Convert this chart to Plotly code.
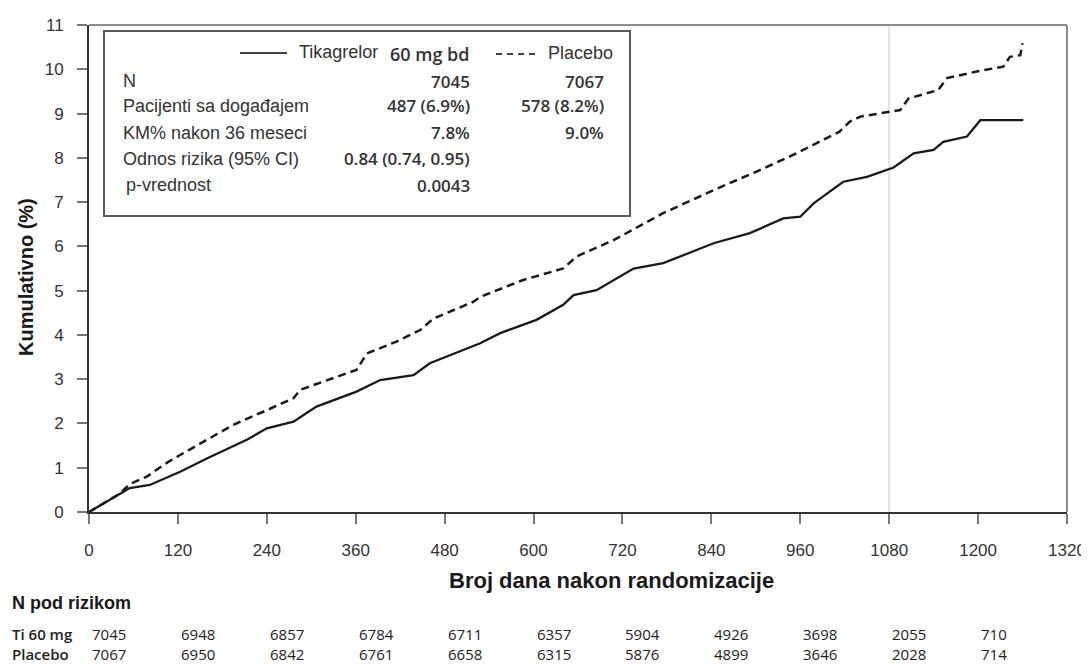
import plotly.graph_objects as go

# ---------------- data ----------------
tica_days = [0, 55, 82, 123, 159, 213, 240, 276, 307, 361, 393, 438, 460, 528, 555, 604, 640, 654,
             685, 735, 775, 843, 892, 937, 960, 978, 1018, 1050, 1086, 1113, 1140, 1153, 1185, 1203, 1261]
tica_vals = [0, 0.54, 0.61, 0.91, 1.21, 1.63, 1.89, 2.04, 2.38, 2.72, 2.98, 3.09, 3.36, 3.81, 4.04, 4.34, 4.68, 4.90,
             5.01, 5.50, 5.62, 6.07, 6.30, 6.63, 6.67, 6.97, 7.46, 7.57, 7.78, 8.10, 8.18, 8.36, 8.48, 8.85, 8.85]

pla_days = [0, 42, 55, 78, 106, 118, 159, 195, 240, 276, 285, 316, 361, 375, 415, 447, 465, 519, 528, 586, 640,
            658, 708, 775, 843, 901, 946, 995, 1013, 1027, 1041, 1095, 1106, 1146, 1158, 1198, 1234, 1243, 1257, 1260]
pla_vals = [0, 0.42, 0.63, 0.80, 1.12, 1.24, 1.63, 1.97, 2.30, 2.57, 2.76, 2.94, 3.21, 3.58, 3.85, 4.11, 4.37, 4.75,
            4.86, 5.24, 5.50, 5.77, 6.14, 6.75, 7.27, 7.69, 8.03, 8.44, 8.59, 8.82, 8.93, 9.08, 9.34, 9.53, 9.80,
            9.95, 10.06, 10.28, 10.32, 10.59]

x_ticks = [0, 120, 240, 360, 480, 600, 720, 840, 960, 1080, 1200, 1320]
y_ticks = list(range(0, 12))
risk_days = [0, 120, 240, 360, 480, 600, 720, 840, 960, 1080, 1200]
risk_tica = [7045, 6948, 6857, 6784, 6711, 6357, 5904, 4926, 3698, 2055, 710]
risk_pla = [7067, 6950, 6842, 6761, 6658, 6315, 5876, 4899, 3646, 2028, 714]
ref_day = 1080

box_labels = ["N", "Pacijenti sa događajem", "KM% nakon 36 meseci", "Odnos rizika (95% CI)", "p-vrednost"]
box_tica = ["7045", "487 (6.9%)", "7.8%", "0.84 (0.74, 0.95)", "0.0043"]
box_pla = ["7067", "578 (8.2%)", "9.0%", "", ""]

# ---------------- geometry helpers (page pixels) ----------------
PAGE_W, PAGE_H = 1089, 666
OFF = 8                       # default body margin of the html page
W, H = PAGE_W - OFF, PAGE_H - OFF
L, R, T, B = 89, 1067, 25, 512   # plot area in page pixels


def px(x):
    return (x - L) / (R - L)


def py(y):
    return (B - y) / (B - T)


SANS = "Liberation Sans, Arial, sans-serif"
NUM = "Open Sans, sans-serif"
INK = "#222222"

fig = go.Figure()
fig.add_trace(go.Scatter(x=tica_days, y=tica_vals, mode="lines",
                         line=dict(color="#1a1a1a", width=2.3), name="Tikagrelor 60 mg bd",
                         showlegend=False))
fig.add_trace(go.Scatter(x=pla_days, y=pla_vals, mode="lines",
                         line=dict(color="#1a1a1a", width=2.5, dash="8px,5px"), name="Placebo",
                         showlegend=False))

shapes = [
    dict(type="line", xref="x", yref="paper", x0=ref_day, x1=ref_day, y0=0, y1=1,
         line=dict(color="#e2e2e2", width=2), layer="below"),
    dict(type="line", xref="paper", yref="paper", x0=0, x1=1, y0=1, y1=1,
         line=dict(color="#8c8c8c", width=2)),
    dict(type="line", xref="paper", yref="paper", x0=1, x1=1, y0=0, y1=1,
         line=dict(color="#8c8c8c", width=2)),
    dict(type="rect", xref="paper", yref="paper", x0=px(104), x1=px(630), y0=py(216), y1=py(31),
         line=dict(color="#5a5a5a", width=2), fillcolor="rgba(255,255,255,1)"),
    dict(type="line", xref="paper", yref="paper", x0=px(240), x1=px(287), y0=py(53), y1=py(53),
         line=dict(color="#444444", width=2)),
    dict(type="line", xref="paper", yref="paper", x0=px(496), x1=px(538), y0=py(54), y1=py(54),
         line=dict(color="#444444", width=2, dash="6px,5px")),
]

ann = []


def txt(x, y, s, anchor="left", size=18, family=SANS, color="#333333", weight=None, **kw):
    f = dict(size=size, family=family, color=color)
    if weight:
        f["weight"] = weight
    ann.append(dict(x=px(x), y=py(y), xref="paper", yref="paper", text=s, showarrow=False,
                    xanchor=anchor, yanchor="middle", font=f, **kw))


# box header
txt(297, 52, "Tikagrelor", size=18)
txt(472, 54, "60 mg bd", anchor="right", size=18, family=NUM, weight=600)
txt(546, 53, "Placebo", size=18)
rows_y = [81, 106, 133, 159, 185]
for lab, a, b, yy in zip(box_labels, box_tica, box_pla, rows_y):
    txt(121 if lab != "p-vrednost" else 124, yy, lab, size=18)
    txt(472, yy, a, anchor="right", size=17, family=NUM, weight=600)
    if b:
        txt(606, yy, b, anchor="right", size=17, family=NUM, weight=600)

# axis titles
txt(611, 580, "Broj dana nakon randomizacije", anchor="center", size=22, color="#1a1a1a", weight="bold")
ann.append(dict(x=px(26), y=py(277), xref="paper", yref="paper", text="Kumulativno (%)",
                showarrow=False, textangle=-90, xanchor="center", yanchor="middle",
                font=dict(size=20, family=SANS, color="#1a1a1a", weight="bold")))

# risk table
row1_y, row2_y = 634, 654
txt(10, 603, "N pod rizikom", size=18, color="#1a1a1a", weight="bold")
txt(10, row1_y, "Ti 60 mg", size=15, family=NUM, color=INK, weight=600)
txt(10, row2_y, "Placebo", size=15, family=NUM, color=INK, weight=600)
for d, a, b in zip(risk_days, risk_tica, risk_pla):
    ann.append(dict(x=d, y=py(row1_y), xref="x", yref="paper", text=str(a), showarrow=False,
                    xanchor="left", yanchor="middle", xshift=1,
                    font=dict(size=15, family=NUM, color=INK)))
    ann.append(dict(x=d, y=py(row2_y), xref="x", yref="paper", text=str(b), showarrow=False,
                    xanchor="left", yanchor="middle", xshift=1,
                    font=dict(size=15, family=NUM, color=INK)))

fig.update_layout(
    width=W, height=H, autosize=False,
    margin=dict(l=L - OFF, r=W - (R - OFF), t=T - OFF, b=H - (B - OFF), autoexpand=False),
    paper_bgcolor="white", plot_bgcolor="white",
    shapes=shapes, annotations=ann,
    xaxis=dict(range=[0, 1320], tickvals=x_ticks, ticktext=[str(v) for v in x_ticks],
               showgrid=False, zeroline=False, showline=True, linecolor="#333333", linewidth=2,
               ticks="outside", ticklen=10, tickwidth=2, tickcolor="#777777", automargin=False,
               tickfont=dict(size=17, family=SANS, color="#333333"), ticklabelstandoff=12),
    yaxis=dict(range=[0, 11], tickvals=y_ticks, ticktext=[str(v) for v in y_ticks],
               showgrid=False, zeroline=False, showline=True, linecolor="#333333", linewidth=2,
               ticks="outside", ticklen=10, tickwidth=2, tickcolor="#777777", automargin=False,
               tickfont=dict(size=17, family=SANS, color="#333333"), ticklabelstandoff=10),
)

fig.write_html("out.html")
